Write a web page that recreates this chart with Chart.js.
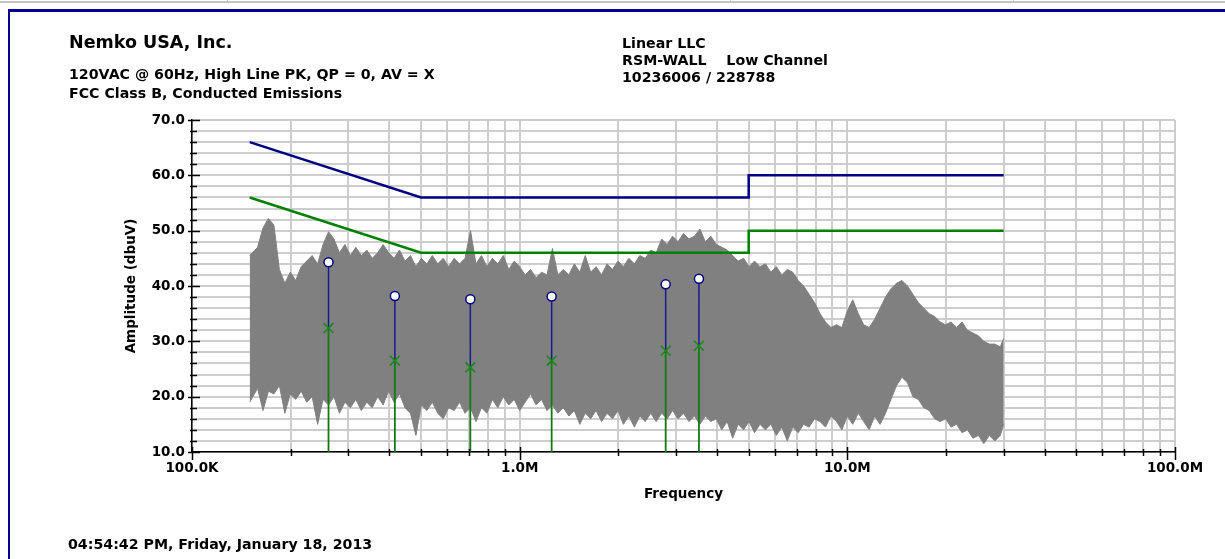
<!DOCTYPE html>
<html>
<head>
<meta charset="utf-8">
<script src="https://cdn.jsdelivr.net/npm/chart.js@4.4.0/dist/chart.umd.min.js"></script>
<style>
html, body { margin: 0; padding: 0; background: #fff; }
#page { position: relative; width: 1225px; height: 559px; overflow: hidden; }
#page canvas { position: absolute; left: 0; top: 0; }
.t { position: absolute; font-family: "DejaVu Sans", sans-serif; font-weight: bold; font-size: 14.2px; line-height: 14.2px; white-space: pre; color: #000; }
.big { font-size: 17.5px; line-height: 17.5px; }
.rule { position: absolute; }
</style>
</head>
<body>
<div id="page">
  <div class="rule" style="left:0;top:1px;width:1225px;height:2px;background:#c4c4c4"></div>
  <div class="rule" style="left:227px;top:0;width:1px;height:3px;background:#c4c4c4"></div>
  <div class="rule" style="left:730px;top:0;width:1px;height:3px;background:#c4c4c4"></div>
  <div class="rule" style="left:1013px;top:0;width:1px;height:3px;background:#c4c4c4"></div>
  <div class="rule" style="left:8px;top:9px;width:1217px;height:3px;background:#000090"></div>
  <div class="rule" style="left:8px;top:9px;width:2px;height:550px;background:#000090"></div>
  <canvas id="chart" width="1225" height="559"></canvas>
  <div class="t big" style="left:69px;top:34px">Nemko USA, Inc.</div>
  <div class="t" style="left:69px;top:67px">120VAC @ 60Hz, High Line PK, QP = 0, AV = X</div>
  <div class="t" style="left:69px;top:86px">FCC Class B, Conducted Emissions</div>
  <div class="t" style="left:622px;top:36px">Linear LLC</div>
  <div class="t" style="left:622px;top:53px">RSM-WALL    Low Channel</div>
  <div class="t" style="left:622px;top:70px">10236006 / 228788</div>
  <div class="t" style="left:68px;top:537px">04:54:42 PM, Friday, January 18, 2013</div>
</div>
<script>
// frequencies in kHz, amplitudes in dBuV

const specFreq = [
  150,
  158.5, 164.7, 171.1, 177.8, 184.8, 192.0, 199.5, 207.3, 215.4, 223.9,
  232.6, 241.7, 251.2, 261.0, 271.2, 281.8, 292.9, 304.3, 316.2, 328.6,
  341.5, 354.8, 368.7, 383.1, 398.1, 413.7, 429.9, 446.7, 464.2, 482.3,
  501.2, 520.8, 541.2, 562.3, 584.3, 607.2, 631.0, 655.6, 681.3, 707.9,
  735.6, 764.4, 794.3, 825.4, 857.7, 891.3, 926.1, 962.4,
  1000, 1039, 1080, 1122, 1166, 1212, 1259, 1308, 1359, 1413,
  1468, 1526, 1585, 1647, 1711, 1778, 1848, 1920, 1995, 2073,
  2154, 2239, 2326, 2417, 2512, 2610, 2712, 2818, 2929, 3043,
  3162, 3286, 3415, 3548, 3687, 3831, 3981, 4137, 4299, 4467,
  4642, 4823, 5012, 5208, 5412, 5623, 5843, 6072, 6310, 6556,
  6813, 7079, 7356, 7644, 7943, 8254, 8577, 8913, 9261, 9624,
  10000, 10390, 10800, 11220, 11660, 12120, 12590, 13080, 13590, 14130,
  14680, 15260, 15850, 16470, 17110, 17780, 18480, 19200, 19950, 20730,
  21540, 22390, 23260, 24170, 25120, 26100, 27120, 28180, 29290,
  30000
];
const specTop = [
  45.5,
  47.0, 50.5, 52.2, 51.0, 43.0, 40.5, 42.5, 41.0, 43.5, 44.5,
  45.5, 44.0, 47.5, 49.8, 48.5, 46.0, 47.5, 45.5, 47.0, 45.5,
  46.5, 45.0, 46.0, 47.5, 46.0, 45.0, 46.5, 44.5, 45.5, 43.5,
  45.0, 44.0, 45.5, 44.0, 45.0, 43.5, 45.0, 44.0, 45.0, 50.0,
  44.0, 45.5, 43.5, 45.0, 44.0, 45.5, 43.0, 44.5,
  43.5, 42.0, 43.0, 41.5, 42.5, 42.0, 46.8, 42.0, 43.0, 42.0,
  44.0, 42.5, 45.5, 42.5, 43.5, 42.0, 44.0, 43.0, 44.5, 43.5,
  45.0, 44.0, 45.5, 45.0, 46.5, 46.0, 48.5, 47.5, 49.0, 48.0,
  49.5, 48.5, 49.0, 50.3, 48.0, 49.0, 47.5, 47.0, 46.5, 45.5,
  44.5, 45.0, 43.5, 44.5, 43.5, 44.0, 42.5, 43.5, 42.0, 43.0,
  42.5, 41.0, 40.0, 38.5, 37.0, 35.0, 33.5, 32.5, 33.0, 32.5,
  35.5, 37.5, 35.0, 33.0, 32.5, 34.0, 36.0, 38.0, 39.5, 40.5,
  41.0, 40.0, 38.5, 37.0, 36.0, 35.0, 34.5, 33.5, 33.0, 33.5,
  32.5, 33.5, 32.0, 31.5, 31.0, 30.0, 29.5, 29.5, 29.0,
  30.5
];
const specBottom = [
  19.0,
  21.5, 17.5, 21.0, 20.5, 22.0, 17.0, 20.5, 19.5, 21.0, 19.0,
  20.0, 15.0, 19.5, 18.5, 20.0, 17.0, 19.0, 18.0, 19.5, 17.5,
  19.0, 18.0, 20.0, 18.5, 21.0, 19.0, 20.5, 18.0, 17.0, 13.0,
  18.5, 17.5, 19.0, 17.0, 16.0, 18.0, 17.5, 19.0, 17.0, 18.0,
  15.5, 18.0, 17.0, 19.5, 18.0, 20.0, 18.5, 19.5,
  17.5, 19.0, 20.5, 18.5, 19.5, 17.5, 18.5, 17.0, 18.0, 16.5,
  17.5, 15.0, 17.0, 16.0, 17.5, 15.5, 17.0, 16.0, 17.5, 15.0,
  16.5, 14.5, 16.5, 15.5, 17.0, 15.5, 17.0, 16.0, 17.5, 16.0,
  17.0, 15.5, 16.5, 15.0, 16.5, 15.5, 16.0, 14.0, 15.5, 12.5,
  15.0, 14.0, 15.5, 13.5, 15.0, 14.0, 15.0, 13.0, 14.5, 12.0,
  14.5, 13.5, 15.0, 14.5, 16.0, 15.5, 14.5, 16.5, 15.5, 14.0,
  16.5, 15.0, 17.0, 15.5, 14.0, 16.5, 15.0, 17.0, 19.5, 22.0,
  23.5, 22.5, 20.0, 19.5, 18.0, 17.5, 16.0, 15.5, 16.0, 14.5,
  15.0, 13.5, 14.0, 12.5, 13.0, 11.5, 13.0, 12.0, 13.0,
  15.0
];

// FCC class B conducted limits
const limitFreq = [150, 500, 5000, 5000, 30000];
const qpLimit = [66, 56, 56, 60, 60];
const avLimit = [56, 46, 46, 50, 50];

// final measurements
const markerFreq = [261, 416, 707, 1252, 2790, 3525];
const markerPk = [44.3, 38.2, 37.6, 38.1, 40.3, 41.3];
const markerAv = [32.4, 26.5, 25.3, 26.5, 28.3, 29.2];

// axes
const xGridValues = [
  100, 200, 300, 400, 500, 600, 700, 800, 900,
  1000, 2000, 3000, 4000, 5000, 6000, 7000, 8000, 9000,
  10000, 20000, 30000, 40000, 50000, 60000, 70000, 80000, 90000,
  100000
];
const xLabelValues = [100, 1000, 10000, 100000];
const xLabelText = ['100.0K', '1.0M', '10.0M', '100.0M'];
const yMin = 10, yMax = 70, yStep = 2, yLabelEvery = 10;

const FONT = { family: 'DejaVu Sans', weight: 'bold', size: 13.5 };

const pts = (xs, ys) => xs.map((x, i) => ({ x: x, y: ys[i] }));

// stick lines from the axis floor up to each reading, split with gaps
const greenSticks = [];
const blueSticks = [];
markerFreq.forEach((f, i) => {
  greenSticks.push({ x: f, y: yMin }, { x: f, y: markerAv[i] }, { x: f, y: null });
  blueSticks.push({ x: f, y: markerAv[i] }, { x: f, y: markerPk[i] }, { x: f, y: null });
});

// tick marks that cross the axis lines
const axisTicks = {
  id: 'axisTicks',
  afterDraw(chart) {
    const { ctx, scales: { x, y } } = chart;
    ctx.save();
    ctx.strokeStyle = '#000';
    ctx.lineWidth = 1.5;
    ctx.beginPath();
    x.ticks.forEach(t => {
      const px = Math.round(x.getPixelForValue(t.value)) + 0.5;
      const major = xLabelValues.includes(t.value);
      ctx.moveTo(px, y.bottom - (major ? 5 : 3));
      ctx.lineTo(px, y.bottom + (major ? 8 : 4));
    });
    y.ticks.forEach(t => {
      const py = Math.round(y.getPixelForValue(t.value)) + 0.5;
      const major = t.value % yLabelEvery === 0;
      ctx.moveTo(x.left - (major ? 4 : 2), py);
      ctx.lineTo(x.left + (major ? 8 : 5), py);
    });
    ctx.stroke();
    ctx.restore();
  }
};

new Chart(document.getElementById('chart'), {
  type: 'line',
  data: {
    datasets: [
      {
        data: pts(specFreq, specBottom),
        borderColor: '#808080', borderWidth: 1, pointRadius: 0,
        fill: false, order: 3
      },
      {
        data: pts(specFreq, specTop),
        borderColor: '#808080', borderWidth: 1, pointRadius: 0,
        backgroundColor: '#808080', fill: '-1', order: 3
      },
      {
        data: pts(limitFreq, qpLimit),
        borderColor: '#000080', borderWidth: 2.5, pointRadius: 0, order: 2
      },
      {
        data: pts(limitFreq, avLimit),
        borderColor: '#008000', borderWidth: 2.5, pointRadius: 0, order: 2
      },
      {
        data: greenSticks,
        borderColor: '#127a12', borderWidth: 1.8, pointRadius: 0, spanGaps: false, order: 1
      },
      {
        data: blueSticks,
        borderColor: '#1a1a8f', borderWidth: 1.5, pointRadius: 0, spanGaps: false, order: 1
      },
      {
        data: pts(markerFreq, markerAv),
        showLine: false, pointStyle: 'crossRot', pointRadius: 7,
        pointBorderColor: '#128a12', pointBorderWidth: 1.5, order: 0
      },
      {
        data: pts(markerFreq, markerPk),
        showLine: false, pointStyle: 'circle', pointRadius: 4.5,
        pointBackgroundColor: '#fff', pointBorderColor: '#000080', pointBorderWidth: 1.5, order: 0
      }
    ]
  },
  options: {
    responsive: false,
    animation: false,
    layout: { padding: { left: 100, right: 50, top: 120, bottom: 50 } },
    plugins: { legend: { display: false }, tooltip: { enabled: false } },
    scales: {
      x: {
        type: 'logarithmic',
        min: 100,
        max: 100000,
        afterBuildTicks: s => { s.ticks = xGridValues.map(v => ({ value: v })); },
        afterFit: s => { s.height = 57; },
        ticks: {
          autoSkip: false,
          maxRotation: 0,
          padding: 8,
          color: '#000',
          font: FONT,
          callback: v => {
            const i = xLabelValues.indexOf(v);
            return i >= 0 ? xLabelText[i] : '';
          }
        },
        grid: { color: '#cdcdcd', lineWidth: 2, drawTicks: false },
        border: { color: '#000', width: 1.5 },
        title: { display: true, text: 'Frequency', color: '#000', font: FONT, padding: { top: 4, bottom: 6 } }
      },
      y: {
        min: yMin,
        max: yMax,
        afterFit: s => { s.width = 92; },
        ticks: {
          stepSize: yStep,
          maxTicksLimit: 40,
          autoSkip: false,
          padding: 7,
          color: '#000',
          font: FONT,
          callback: v => (v % yLabelEvery === 0 ? v.toFixed(1) : '')
        },
        grid: { color: '#cdcdcd', lineWidth: 2, drawTicks: false },
        border: { color: '#000', width: 1.5 },
        title: { display: true, text: 'Amplitude (dbuV)', color: '#000', font: FONT, padding: { top: 23, bottom: 0 } }
      }
    }
  },
  plugins: [axisTicks]
});
</script>
</body>
</html>
